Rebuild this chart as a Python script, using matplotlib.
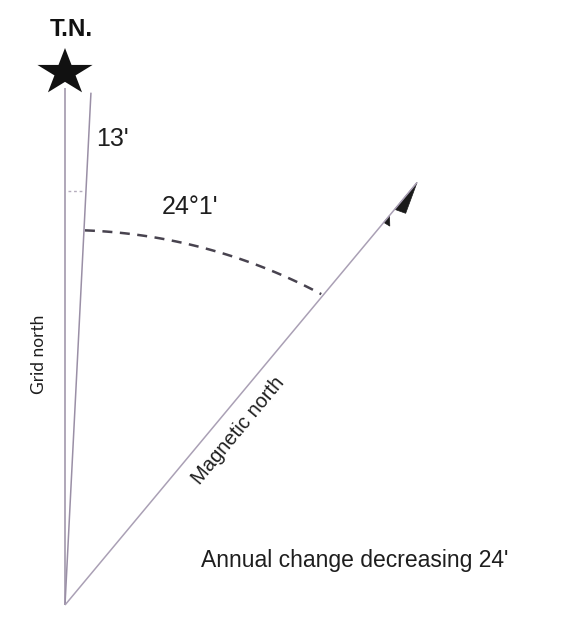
import numpy as np
import matplotlib.pyplot as plt
from matplotlib.patches import Polygon

# drawing geometry (pixels, y downwards), angles measured clockwise from true north
origin = (65, 605)
line_names = ['true', 'grid', 'magnetic']
line_angles = [0.0, 2.9, 39.8]
line_lengths = [517, 513, 550]
line_colors = ['#9a8fa6', '#9a8fa6', '#aaa0b5']

arc_center = (65, 774)
arc_radius = 544
arc_span = [2.1, 28.1]

angle_labels = ["13'", "24°1'"]
annual_text = "Annual change decreasing 24'"

fig = plt.figure(figsize=(5.69, 6.19), dpi=100)
ax = fig.add_axes([0, 0, 1, 1])
ax.set_xlim(0, 569)
ax.set_ylim(619, 0)
ax.axis('off')


def point(base, ang, dist):
	a = np.radians(ang)
	return base[0] + dist*np.sin(a), base[1] - dist*np.cos(a)


tips = {}
for name, ang, ln, col in zip(line_names, line_angles, line_lengths, line_colors):
	x1, y1 = point(origin, ang, ln)
	tips[name] = (x1, y1)
	ax.plot([origin[0], x1], [origin[1], y1], color=col, lw=1.1, solid_capstyle='butt')

# star at true north
sx, sy = 65, 72.5
k = np.arange(10)
r = np.where(k % 2 == 0, 1.0, 0.382)
th = np.radians(k*36)
star = np.c_[sx + 29*r*np.sin(th), sy - 24.5*r*np.cos(th)]
ax.add_patch(Polygon(star, closed=True, fc='#111111', ec='none'))

# small dotted tick between true and grid north
gx, gy = point(origin, line_angles[1], 415)
ax.plot([origin[0] + 3, gx - 3], [gy, gy], color='#b5adbd', lw=1.0, ls=(0, (2, 2)))

# dashed arc between grid and magnetic north
t = np.radians(np.linspace(arc_span[0], arc_span[1], 80))
ax.plot(arc_center[0] + arc_radius*np.sin(t), arc_center[1] - arc_radius*np.cos(t),
		color='#48434f', lw=1.8, ls=(0, (4, 3)))

# half arrow on magnetic north
mt = tips['magnetic']
a = np.radians(line_angles[2])
u = np.array([np.sin(a), -np.cos(a)])
n = np.array([np.cos(a), np.sin(a)])
tip = np.array(mt)
barb = [tip, tip - 35*u, tip - 31*u + 11*n]
ax.add_patch(Polygon(barb, closed=True, fc='#1a1a1a', ec='#1a1a1a', lw=0.5))
barb2 = [tip - 43*u, tip - 52*u, tip - 51*u + 7*n]
ax.add_patch(Polygon(barb2, closed=True, fc='#1a1a1a', ec='#1a1a1a', lw=0.5))

arial = 'Liberation Sans'
ax.text(71, 30, 'T.N.', fontsize=17.5, fontweight='bold', family=arial, ha='center', va='center', color='#111111')
ax.text(112, 139, angle_labels[0], fontsize=18, family=arial, ha='center', va='center', color='#1e1e1e')
ax.text(190, 207, angle_labels[1], fontsize=18, family=arial, ha='center', va='center', color='#1e1e1e')
ax.text(39, 354, 'Grid north', fontsize=12.5, family='Lato', rotation=90, ha='center', va='center', color='#1e1e1e')
ax.text(238, 431, 'Magnetic north', fontsize=14.5, family=arial, rotation=50.3, ha='center', va='center', color='#1e1e1e')
ax.text(355, 561, annual_text, fontsize=16.5, family=arial, ha='center', va='center', color='#1e1e1e')

fig.savefig('out.png', dpi=100)
